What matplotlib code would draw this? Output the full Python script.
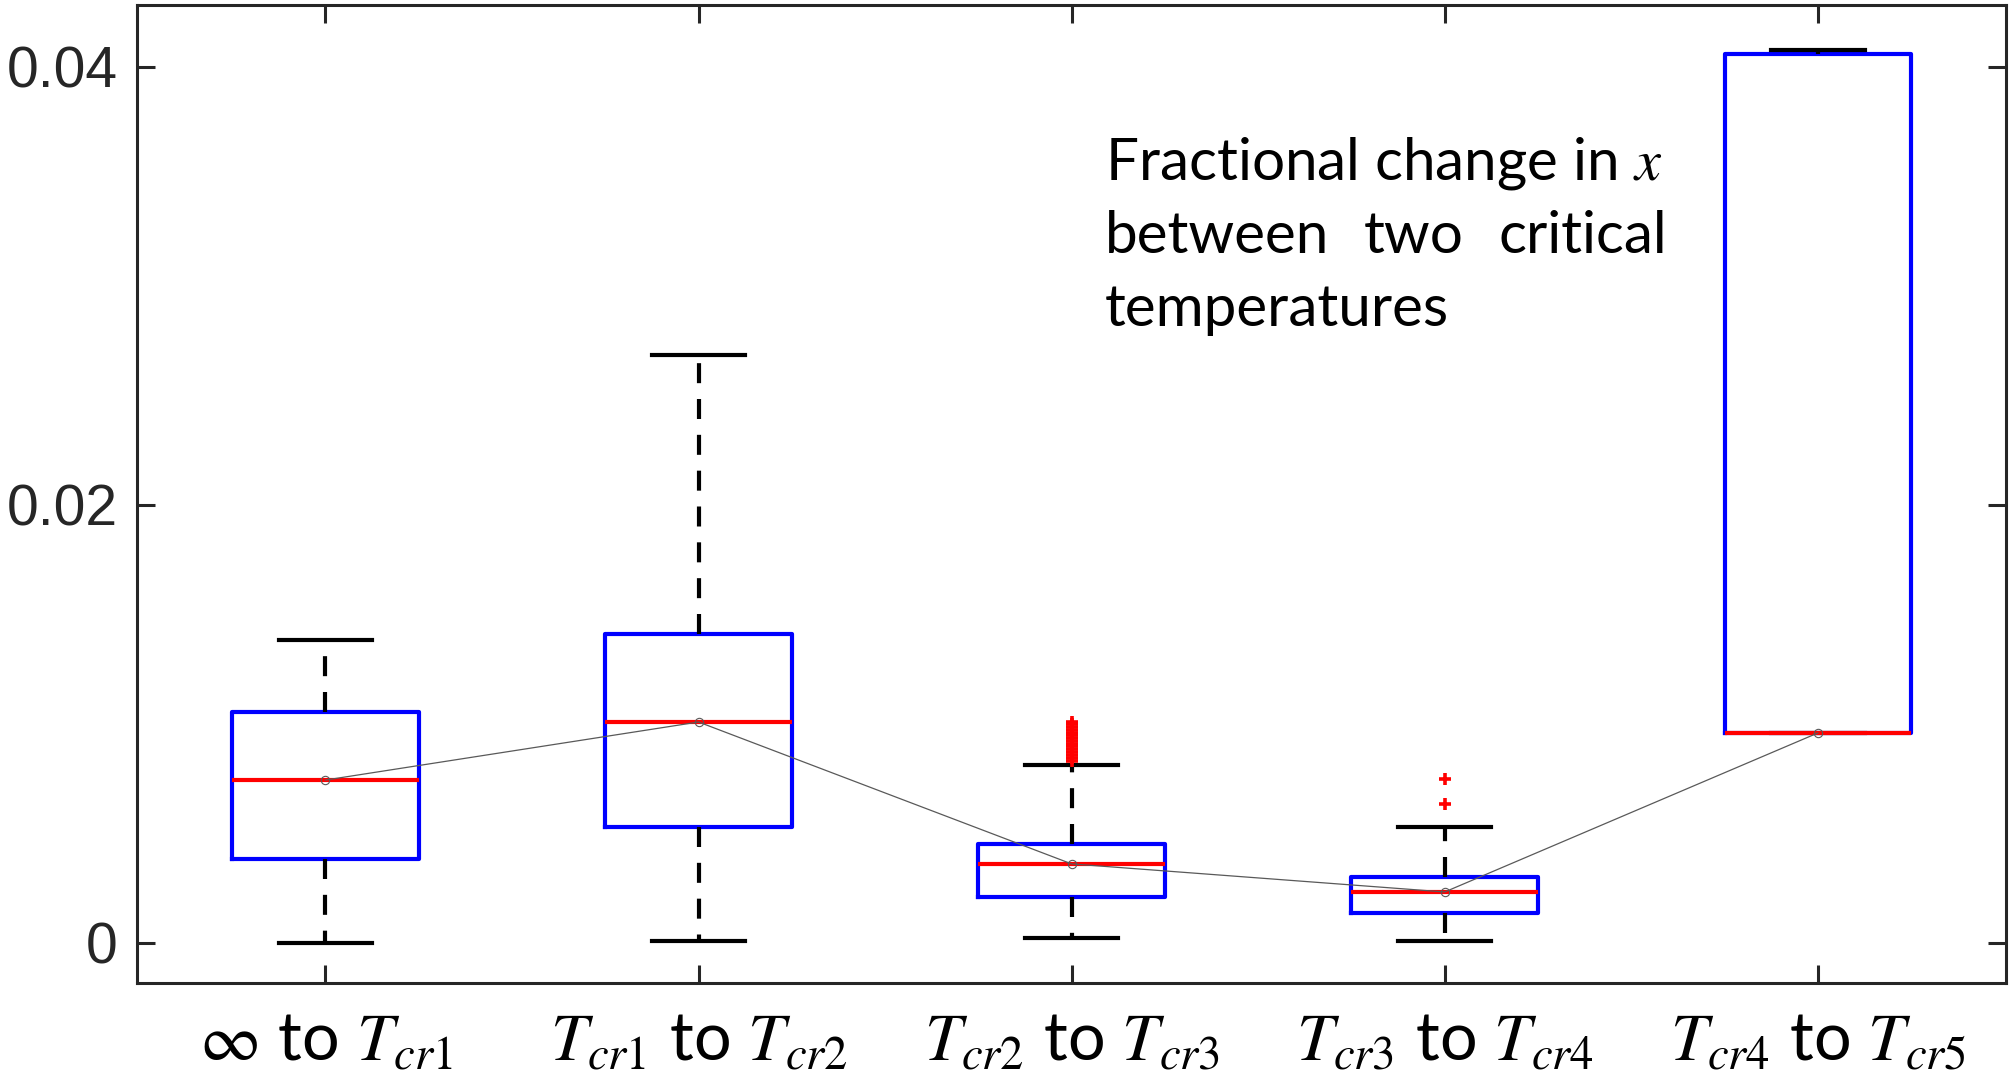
# =============================
# IMPORTAÇÃO DE BIBLIOTECAS
# =============================
import matplotlib
matplotlib.use("Agg")
import matplotlib.pyplot as plt

# ======================
# DADOS
# ======================
categorias = [r"$\infty$ to $T_{cr1}$", r"$T_{cr1}$ to $T_{cr2}$", r"$T_{cr2}$ to $T_{cr3}$",
              r"$T_{cr3}$ to $T_{cr4}$", r"$T_{cr4}$ to $T_{cr5}$"]
whislo = [0.0000, 0.00009, 0.00023, 0.00010, 0.00959]
q1 = [0.00384, 0.00530, 0.00210, 0.00137, 0.00959]
mediana = [0.00744, 0.01009, 0.00361, 0.00233, 0.00959]
q3 = [0.01055, 0.01411, 0.00452, 0.00301, 0.04059]
whishi = [0.01384, 0.02687, 0.00813, 0.00530, 0.04078]
outliers = [
    [],
    [],
    [0.00830, 0.00845, 0.00860, 0.00872, 0.00885, 0.00898, 0.00910, 0.00922,
     0.00935, 0.00948, 0.00960, 0.00972, 0.00985, 0.00998, 0.01010],
    [0.00635, 0.00749],
    [],
]
yticks = [0, 0.02, 0.04]
ytick_labels = ["0", "0.02", "0.04"]
texto = ["Fractional change in $x$", ["between", "two", "critical"], "temperatures"]

# ======================
# FIGURA
# ======================
plt.rcParams["mathtext.fontset"] = "stix"
plt.rcParams["font.family"] = ["Liberation Sans", "DejaVu Sans"]

fig = plt.figure(figsize=(20.15, 10.84), dpi=100)
ax = fig.add_axes([0.068, 0.0932, 0.9275, 0.9022])

posicoes = list(range(1, len(categorias) + 1))
stats = []
for i in range(len(categorias)):
    stats.append(dict(med=mediana[i], q1=q1[i], q3=q3[i], whislo=whislo[i],
                      whishi=whishi[i], fliers=outliers[i]))

lw = 3.0
ax.bxp(stats, positions=posicoes, widths=0.5, capwidths=0.25, showfliers=True,
       boxprops=dict(color="blue", lw=lw),
       medianprops=dict(color="red", lw=lw, zorder=4),
       whiskerprops=dict(color="black", lw=lw, linestyle=(0, (4.8, 3.8))),
       capprops=dict(color="black", lw=lw),
       flierprops=dict(marker="+", markeredgecolor="red", markersize=8,
                       markeredgewidth=2.6, linestyle="none"))

# linha cinza ligando as medianas
ax.plot(posicoes, mediana, color="0.35", lw=0.9, marker="o", mfc="none",
        mec="0.35", ms=6, mew=0.8, zorder=6)

ax.set_xlim(0.495, 5.504)
ax.set_ylim(-0.001826, 0.04283)
ax.set_yticks(yticks)
ax.set_yticklabels(ytick_labels, fontsize=41, color="#262626")
ax.set_xticks(posicoes)
ax.set_xticklabels(categorias, fontsize=48, family="Lato")

ax.tick_params(direction="in", top=True, right=True, length=13, width=2.2,
               color="#262626")
ax.tick_params(axis="y", pad=14)
ax.tick_params(axis="x", pad=20)
for s in ax.spines.values():
    s.set_linewidth(2.2)
    s.set_color("#262626")

# ======================
# TEXTO (justificado)
# ======================
x0, x1 = 1105 / 2015, 1667 / 2015
fs = 42
fig.text(x0, 1 - 180 / 1084, texto[0], fontsize=fs, family="Lato", va="baseline", ha="left")
y2 = 1 - 253 / 1084
t_a = fig.text(x0, y2, texto[1][0], fontsize=fs, family="Lato", va="baseline", ha="left")
t_c = fig.text(x1, y2, texto[1][2], fontsize=fs, family="Lato", va="baseline", ha="right")
fig.canvas.draw()
r = fig.canvas.get_renderer()
fim_a = t_a.get_window_extent(r).x1
ini_c = t_c.get_window_extent(r).x0
xmeio = (fim_a + ini_c) / 2 / fig.bbox.width
fig.text(xmeio, y2, texto[1][1], fontsize=fs, family="Lato", va="baseline", ha="center")
fig.text(x0, 1 - 326 / 1084, texto[2], fontsize=fs, family="Lato", va="baseline", ha="left")

fig.savefig("out.png", dpi=100)
